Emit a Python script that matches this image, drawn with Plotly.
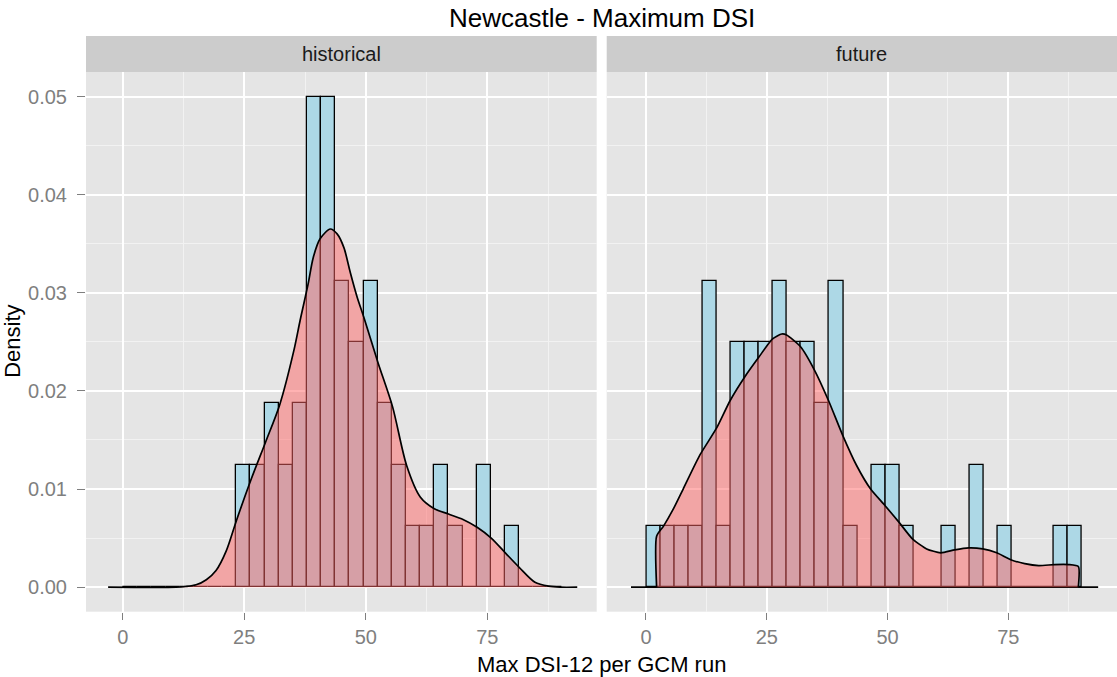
import plotly.graph_objects as go

# ---- histogram data (shared breaks for both facets) ----
BIN_START = 0.1
BIN_WIDTH = 2.909
N_RUNS = 55

historical_counts = [0, 0, 0, 0, 0, 0, 0, 0,
                     2, 2, 3, 2, 3, 8, 8, 5, 4, 5, 3, 2, 1, 1, 2, 1, 0, 2, 0, 1,
                     0, 0, 0]
future_counts = [1, 1, 1, 1, 5, 1, 4, 4, 4, 5, 4, 4, 3, 5, 1, 0, 2, 2, 1, 0,
                 0, 1, 0, 2, 0, 1, 0, 0, 0, 1, 1]

# ---- kernel density curves ----
historical_density_x = [-3.0, 11.0, 13.0, 15.1, 17.2, 19.2, 21.3, 23.4, 26.5, 29.4,
                        32.3, 35.2, 36.5, 38.1, 39.2, 40.6, 42.7, 44.1, 45.5, 46.8,
                        48.2, 49.6, 52.5, 55.5, 58.4, 61.2, 64.1, 67.0, 70.0, 72.9,
                        75.8, 78.7, 81.6, 84.8, 87.6, 90.0, 93.5]
historical_density_y = [0, 0, 0.00007, 0.00024, 0.00076, 0.0017, 0.0037, 0.0068, 0.0111, 0.0148,
                        0.0186, 0.0241, 0.0272, 0.0308, 0.0336, 0.0355, 0.0365, 0.0360, 0.0346, 0.0321,
                        0.0296, 0.0275, 0.0229, 0.0184, 0.0124, 0.0092, 0.0080, 0.00745, 0.0069, 0.0061,
                        0.0050, 0.0035, 0.0020, 0.0005, 0.0001, 0, 0]

future_density_x = [2.2, 2.2, 3.6, 5.7, 7.7, 11.2, 14.6, 17.4, 20.4, 23.3,
                    26.2, 28.1, 29.1, 32.0, 34.9, 37.8, 40.7, 43.6, 46.5, 49.5,
                    52.4, 55.2, 58.1, 61.0, 63.9, 66.8, 69.7, 72.6, 75.5, 78.4,
                    81.3, 84.6, 87.5, 89.5, 89.5]
future_density_y = [0, 0.0052, 0.0062, 0.0080, 0.0100, 0.0135, 0.0162, 0.0190, 0.0214, 0.0234,
                    0.0253, 0.0258, 0.0257, 0.0245, 0.0221, 0.0190, 0.0155, 0.0124, 0.0100, 0.0083,
                    0.0066, 0.0049, 0.0039, 0.0035, 0.0038, 0.0040, 0.0039, 0.0035, 0.0028, 0.0024,
                    0.0022, 0.0023, 0.0023, 0.0021, 0]
future_density_range = [-3.1, 93.6]

facet_labels = ["historical", "future"]
x_ticks = [0, 25, 50, 75]
x_minor = [12.5, 37.5, 62.5, 87.5]
y_ticks = [0.0, 0.01, 0.02, 0.03, 0.04, 0.05]
y_ticktext = ["0.00", "0.01", "0.02", "0.03", "0.04", "0.05"]
y_minor = [0.005, 0.015, 0.025, 0.035, 0.045]

# ---- layout geometry (pixels) ----
W, H = 1117, 677
FONT = "Liberation Sans, Arial, sans-serif"
panels_px = [(86, 596.7), (606.7, 1117)]
x_ranges = [[-7.55, 97.5], [-8.13, 97.5]]
panel_top, panel_bottom = 72, 611.7
strip_top = 36


def px_x(p):
    return p / W


def px_y(p):
    return 1 - p / H


centers = [BIN_START + BIN_WIDTH * (i + 0.5) for i in range(len(future_counts))]
scale = 1.0 / (N_RUNS * BIN_WIDTH)

fig = go.Figure()

for k, counts in enumerate([historical_counts, future_counts]):
    xa = "x" if k == 0 else "x2"
    ya = "y" if k == 0 else "y2"
    fig.add_trace(go.Bar(
        x=centers, y=[c * scale for c in counts], width=BIN_WIDTH,
        marker=dict(color="#ADD8E6", line=dict(color="black", width=1.3)),
        xaxis=xa, yaxis=ya, showlegend=False, hoverinfo="x+y",
    ))

fill = "rgba(255,102,102,0.5)"
fig.add_trace(go.Scatter(
    x=historical_density_x, y=historical_density_y, mode="lines",
    line=dict(color="black", width=1.7, shape="spline", smoothing=0.8),
    fill="tozeroy", fillcolor=fill, xaxis="x", yaxis="y", showlegend=False,
))
# baseline of the future density across the full x range
fig.add_trace(go.Scatter(
    x=future_density_range, y=[0, 0], mode="lines",
    line=dict(color="black", width=1.7), xaxis="x2", yaxis="y2",
    showlegend=False, hoverinfo="skip",
))
fig.add_trace(go.Scatter(
    x=future_density_x, y=future_density_y, mode="lines",
    line=dict(color="black", width=1.7, shape="spline", smoothing=0.6),
    fill="tozeroy", fillcolor=fill, xaxis="x2", yaxis="y2", showlegend=False,
))

tick_font = dict(family=FONT, size=20, color="#7F7F7F")
xaxis_common = dict(
    tickvals=x_ticks, ticks="outside", ticklen=7, tickwidth=1.3, tickcolor="#7F7F7F",
    tickfont=tick_font, showgrid=True, gridcolor="white", gridwidth=2,
    zeroline=False, showline=False, fixedrange=True,
    minor=dict(tickvals=x_minor, showgrid=True, gridcolor="#F2F2F2", gridwidth=1, ticks=""),
)
yaxis_common = dict(
    range=[-0.0025, 0.0525], domain=[px_y(panel_bottom), px_y(panel_top)],
    tickvals=y_ticks, ticktext=y_ticktext, showgrid=True, gridcolor="white", gridwidth=2,
    zeroline=False, showline=False, fixedrange=True,
    minor=dict(tickvals=y_minor, showgrid=True, gridcolor="#F2F2F2", gridwidth=1, ticks=""),
)

fig.update_layout(
    width=W, height=H,
    margin=dict(l=0, r=0, t=0, b=0),
    paper_bgcolor="white", plot_bgcolor="#E5E5E5",
    bargap=0, barmode="overlay",
    xaxis=dict(domain=[px_x(panels_px[0][0]), px_x(panels_px[0][1])], range=x_ranges[0],
               anchor="y", **xaxis_common),
    xaxis2=dict(domain=[px_x(panels_px[1][0]), px_x(panels_px[1][1])], range=x_ranges[1],
                anchor="y2", **xaxis_common),
    yaxis=dict(anchor="x", ticks="outside", ticklen=8, tickwidth=1.3, tickcolor="#7F7F7F",
               ticklabelstandoff=6, tickfont=tick_font, **yaxis_common),
    yaxis2=dict(anchor="x2", matches="y", showticklabels=False, ticks="", **yaxis_common),
)

# facet strips
for (x0, x1), label in zip(panels_px, facet_labels):
    fig.add_shape(type="rect", xref="paper", yref="paper",
                  x0=px_x(x0), x1=px_x(x1), y0=px_y(panel_top), y1=px_y(strip_top),
                  fillcolor="#CCCCCC", line=dict(width=0), layer="below")
    fig.add_annotation(text=label, xref="paper", yref="paper",
                       x=px_x((x0 + x1) / 2), y=px_y((strip_top + panel_top) / 2),
                       xanchor="center", yanchor="middle", showarrow=False,
                       font=dict(family=FONT, size=20, color="#1A1A1A"))

mid_x = px_x((panels_px[0][0] + panels_px[1][1]) / 2)
fig.add_annotation(text="Newcastle - Maximum DSI", xref="paper", yref="paper",
                   x=mid_x, y=px_y(18), xanchor="center", yanchor="middle", showarrow=False,
                   font=dict(family=FONT, size=26, color="black"))
fig.add_annotation(text="Max DSI-12 per GCM run", xref="paper", yref="paper",
                   x=mid_x, y=px_y(664), xanchor="center", yanchor="middle", showarrow=False,
                   font=dict(family=FONT, size=22, color="black"))
fig.add_annotation(text="Density", xref="paper", yref="paper", textangle=-90,
                   x=px_x(13), y=px_y((panel_top + panel_bottom) / 2),
                   xanchor="center", yanchor="middle", showarrow=False,
                   font=dict(family=FONT, size=22, color="black"))

fig.write_html("out.html")
